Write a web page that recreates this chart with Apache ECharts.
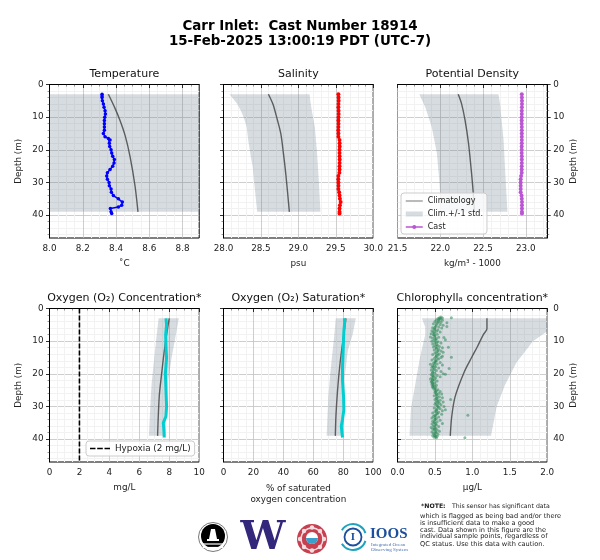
<!DOCTYPE html>
<html><head><meta charset="utf-8">
<style>html,body{margin:0;padding:0;background:#fff}#c{width:600px;height:560px}</style>
<script src="https://cdn.jsdelivr.net/npm/echarts@6/dist/echarts.min.js"></script>
</head><body><div id="c"></div>
<script>
// ---------- data: [value, depth] ----------
const depthTicks=[0,10,20,30,40];
const tempTicks=[8,8.2,8.4,8.6,8.8];
const salTicks=[28,28.5,29,29.5,30];
const densTicks=[21.5,22,22.5,23];
const oxyTicks=[0,2,4,6,8,10];
const satTicks=[0,20,40,60,80,100];
const chlTicks=[0,0.5,1,1.5,2];

const tempClim=[[8.354,3],[8.394,7.3],[8.424,11],[8.454,15.5],[8.484,22],[8.514,31],[8.532,39]];
const tempLo=[[7.7,3],[7.7,39]];
const tempHi=[[9.2,3],[9.2,39]];
const tempCast=[[8.316,3],[8.316,3.5],[8.316,4],[8.318,5],[8.324,6],[8.328,7],[8.334,8],[8.336,9],[8.332,10],[8.33,11],[8.33,12],[8.33,13],[8.33,14],[8.324,15],[8.334,16],[8.354,16.5],[8.364,17],[8.36,18],[8.362,19],[8.37,20],[8.374,21],[8.38,22],[8.39,23],[8.388,24],[8.38,25],[8.364,26],[8.348,27],[8.344,28],[8.348,29],[8.358,30],[8.36,31],[8.37,32],[8.372,33],[8.384,34],[8.414,35],[8.438,36],[8.434,37],[8.414,37.5],[8.366,38],[8.37,39],[8.374,39.5]];

const salClim=[[28.6,3],[28.66,6],[28.71,10],[28.765,15],[28.8,21],[28.835,28],[28.88,39]];
const salLo=[[28.08,3],[28.11,3.8],[28.18,5.8],[28.23,7.9],[28.27,10.1],[28.31,13],[28.33,17],[28.365,22.1],[28.39,25.2],[28.42,32.3],[28.45,39]];
const salHi=[[29.15,3],[29.16,5],[29.18,8],[29.22,13],[29.25,21],[29.275,30],[29.295,39]];
const salCast=[[29.535,3],[29.537,4],[29.538,5],[29.536,6],[29.535,7],[29.537,8],[29.538,9],[29.536,10],[29.535,11],[29.536,12],[29.535,13],[29.534,14],[29.535,15],[29.535,16],[29.55,17],[29.551,18],[29.552,19],[29.55,20],[29.55,21],[29.551,22],[29.552,23],[29.551,24],[29.55,25],[29.55,26],[29.548,27],[29.535,28],[29.534,29],[29.535,30],[29.536,31],[29.535,32],[29.545,33],[29.55,34],[29.555,35],[29.565,36],[29.555,37],[29.55,38],[29.55,39],[29.55,39.5]];

const densClim=[[22.21,3],[22.25,6],[22.29,11],[22.33,18],[22.365,27],[22.385,33],[22.4,39]];
const densLo=[[21.755,3],[21.79,5],[21.825,7],[21.9,13],[21.96,21],[21.99,30],[22.01,39]];
const densHi=[[22.68,3],[22.7,6],[22.71,9],[22.74,17],[22.76,27],[22.785,39]];
const densCast=[[22.953,3],[22.954,4],[22.955,5],[22.955,6],[22.954,7],[22.953,8],[22.953,9],[22.952,10],[22.952,11],[22.952,12],[22.953,13],[22.953,14],[22.953,15],[22.953,16],[22.953,17],[22.953,18],[22.952,19],[22.952,20],[22.952,21],[22.953,22],[22.953,23],[22.953,24],[22.952,25],[22.952,26],[22.952,27],[22.945,28],[22.94,29],[22.94,30],[22.94,31],[22.94,32],[22.94,33],[22.95,34],[22.953,35],[22.955,36],[22.955,37],[22.955,38],[22.955,39],[22.955,39.5]];

const oxyClim=[[8,3],[7.82,8],[7.64,14],[7.49,20],[7.33,27],[7.22,39]];
const oxyLo=[[7.29,3],[7.16,8],[7,15],[6.82,23],[6.71,32],[6.64,39]];
const oxyHi=[[8.64,3],[8.44,8],[8.16,15],[7.93,22],[7.82,30],[7.76,39]];
const oxyCast=[[7.78,3],[7.82,5],[7.76,8],[7.78,12],[7.82,15],[7.74,20],[7.78,25],[7.82,30],[7.78,33],[7.6,35],[7.64,37],[7.67,39.5]];
const hypoxia=[[2,0],[2,47]];

const satClim=[[81.8,3],[80,9],[77.8,17],[76.2,25],[75.1,33],[74.7,39]];
const satLo=[[75,3],[73.8,9],[71.5,19],[70,27],[68.9,39]];
const satHi=[[88.4,3],[86.2,8],[83,13],[81,21],[80.4,30],[80,39]];
const satCast=[[80.7,3],[81,4],[80.4,7],[80,12],[79.5,18],[79.5,22],[80.2,27],[80.4,31],[79.5,34],[78.7,36],[79.1,38],[79.5,39.5]];

const chlClim=[[1.195,3],[1.195,6.2],[1.147,8],[1.067,11.7],[0.99,15],[0.89,19.5],[0.77,27],[0.725,33],[0.705,39]];
const chlLo=[[0.325,3],[0.37,5.7],[0.37,8],[0.3,15],[0.235,23.5],[0.18,30.6],[0.16,39]];
const chlHi=[[2.4,3],[2.15,5],[2,7],[1.81,10],[1.59,16.5],[1.435,23.5],[1.325,30],[1.25,39]];
const chlCast=[
[.58,2.6],[.56,2.8],[.6,2.9],[.54,3.1],[.72,2.8],[.57,3.3],[.52,3.5],[.6,3.6],[.55,3.9],[.5,4],[.58,4.2],[.66,4.4],[.53,4.5],[.48,4.7],[.57,4.9],[.61,5.1],[.66,5.5],[.51,5.4],[.55,5.7],[.47,5.9],[.59,6],
[.5,6.3],[.54,6.6],[.46,6.8],[.52,7],[.57,7.2],[.49,7.4],[.45,7.7],[.53,7.9],[.48,8.1],[.62,8.9],[.5,8.4],[.44,8.7],[.55,8.8],[.47,9.1],[.52,9.3],[.64,9.6],[.49,9.7],[.46,10],[.54,10.2],[.5,10.5],[.58,10.6],[.47,10.9],[.53,11.1],[.68,11.9],[.5,11.3],[.56,11.6],[.48,11.8],[.6,12],[.52,12.2],[.55,12.5],[.49,12.7],[.58,13],[.53,13.2],[.61,13.4],[.5,13.6],[.56,13.9],[.47,14.1],[.72,14.9],[.54,14.3],[.6,14.6],[.51,14.8],[.58,15],
[.49,15.3],[.55,15.5],[.46,15.8],[.52,16],[.5,16.3],[.57,16.5],[.44,17.1],[.48,16.8],[.53,17],[.6,17.3],[.47,17.5],[.51,17.8],[.69,18.4],[.46,18],[.55,18.2],[.49,18.5],[.45,18.8],[.52,19],[.58,19.3],[.47,19.5],[.61,20],[.64,20.1],[.5,19.8],[.45,20.2],[.53,20.5],[.48,20.7],[.57,20.9],[.46,21.1],[.51,21.3],[.44,21.6],[.49,21.8],[.47,22],[.53,22.2],[.45,22.5],[.5,22.7],[.47,23],[.46,23.3],[.52,23.5],[.49,23.7],[.47,24],[.51,24.2],
[.5,24.6],[.54,24.9],[.52,25.2],[.57,25.4],[.5,25.7],[.55,26],[.59,26.2],[.52,26.4],[.49,26.7],[.56,27],[.6,27.3],[.53,27.5],[.71,27.9],[.5,27.9],[.57,28.1],[.54,28.4],[.61,28.6],[.51,28.8],[.56,29],[.5,29.3],[.58,29.5],[.53,29.8],[.62,30],[.55,30.2],[.49,30.5],[.57,30.7],[.64,31],[.52,31.1],[.6,31.3],[.5,31.5],[.55,31.8],[.47,32],[.53,32.2],[.94,32.7],[.59,32.4],[.5,32.7],[.48,33],[.55,33.2],[.46,33.5],[.52,33.7],[.5,34],[.57,34.2],[.47,34.5],[.53,34.7],[.6,35.2],[.49,35],[.46,35.4],[.52,35.6],[.48,35.9],[.55,36.1],[.45,36.4],[.51,36.6],[.47,36.9],[.53,37.1],[.49,37.3],[.56,37.6],[.46,37.8],[.52,38],[.48,38.3],[.54,38.5],[.5,38.8],[.47,39],[.53,39.1],[.49,39.4],[.52,39.6],[.9,39.6],
[.57,3],[.55,3.4],[.54,4.1],[.52,5],[.5,5.8],[.49,6.5],[.48,7.3],[.49,8],[.5,8.9],[.51,9.6],[.52,10.4],[.53,11.4],[.52,12.1],[.54,12.9],[.53,13.8],[.52,14.5],[.53,15.2],[.51,16],[.5,16.7],[.49,17.4],[.48,18.1],[.48,18.9],[.47,19.7],[.47,20.4],[.48,21],[.47,21.7],[.46,22.3],[.47,22.8],[.48,23.4],[.47,23.9],[.48,24.4],[.5,25],[.51,25.6],[.52,26.1],[.53,26.8],[.52,27.4],[.53,28],[.54,28.7],[.53,29.4],[.54,30.1],[.53,30.8],[.52,31.4],[.53,32.1],[.51,32.8],[.5,33.4],[.5,34.1],[.49,34.8],[.51,35.3],[.5,35.9],[.49,36.5],[.5,37],[.51,37.7],[.5,38.2],[.5,38.9],[.51,39.3]];

const panelTitles=['Temperature','Salinity','Potential Density','Oxygen (O₂) Concentration*','Oxygen (O₂) Saturation*','Chlorophyllₐ concentration*'];
const xNames=['˚C','psu','kg/m³ - 1000','mg/L','% of saturated\noxygen concentration','μg/L'];
const noteLines=['This sensor has significant data','which is flagged as being bad and/or there','is insufficient data to make a good','cast. Data shown in this figure are the','individual sample points, regardless of','QC status. Use this data with caution.'];

// ---------- build ----------
const FONT='DejaVu Sans', FILL='rgba(112,128,144,0.28)', CLIM='rgba(70,70,70,0.85)';
const lefts=[49.5,223.5,397.5], tops=[84.5,308.5], W=149.7, H=153.5;
const panels=[
 {r:0,c:0,min:8,max:8.9,iv:.2,sp:4,ticks:tempTicks,dec:1,clim:tempClim,lo:tempLo,hi:tempHi,cast:tempCast,col:'#0000ff',lw:1.5,ss:3.5},
 {r:0,c:1,min:28,max:30,iv:.5,sp:5,ticks:salTicks,dec:1,clim:salClim,lo:salLo,hi:salHi,cast:salCast,col:'#ff0000',lw:1.5,ss:4},
 {r:0,c:2,min:21.5,max:23.25,iv:.5,sp:5,ticks:densTicks,dec:1,clim:densClim,lo:densLo,hi:densHi,cast:densCast,col:'#ba55d3',lw:1.5,ss:4},
 {r:1,c:0,min:0,max:10,iv:2,sp:4,ticks:oxyTicks,dec:0,clim:oxyClim,lo:oxyLo,hi:oxyHi,cast:oxyCast,col:'#00ced1',lw:3,ss:0},
 {r:1,c:1,min:0,max:100,iv:20,sp:4,ticks:satTicks,dec:0,clim:satClim,lo:satLo,hi:satHi,cast:satCast,col:'#00ced1',lw:3,ss:0},
 {r:1,c:2,min:0,max:2,iv:.5,sp:5,ticks:chlTicks,dec:1,clim:chlClim,lo:chlLo,hi:chlHi,cast:chlCast,col:'#2e8b57',scatter:true}
];
const grid=[],xAxis=[],yAxis=[],series=[],title=[];
const major={show:true,lineStyle:{color:'#c2c2c2',width:.8}};
const minor={show:true,lineStyle:{color:'#f2f2f2',width:1}};
panels.forEach((p,i)=>{
 const L=lefts[p.c],T=tops[p.r];
 grid.push({left:L,top:T,width:W,height:H,show:true,borderColor:'#000',borderWidth:1,backgroundColor:'transparent',containLabel:false});
 xAxis.push({type:'value',gridIndex:i,min:p.min,max:p.max,interval:p.iv,
  name:xNames[i],nameLocation:'middle',nameGap:i===4?21:20,nameTextStyle:{fontFamily:FONT,fontSize:8.8,color:'#222',lineHeight:11},
  axisLine:{show:true,lineStyle:{color:'#000',width:1}},
  axisTick:{show:true,length:3.5,customValues:p.ticks,lineStyle:{color:'#000',width:.8}},
  minorTick:{show:true,splitNumber:p.sp,length:2,lineStyle:{color:'#333',width:.5}},
  axisLabel:{show:true,customValues:p.ticks,fontFamily:FONT,fontSize:8.8,color:'#222',margin:6.5,formatter:v=>v.toFixed(p.dec),hideOverlap:false,showMinLabel:true,showMaxLabel:true},
  splitLine:major,minorSplitLine:minor});
 const right=p.c===2, lab=p.c!==1;
 yAxis.push({type:'value',gridIndex:i,inverse:true,min:0,max:47,interval:10,position:right?'right':'left',
  name:lab?'Depth (m)':'',nameLocation:'middle',nameGap:right?22:26,nameRotate:90,nameTextStyle:{fontFamily:FONT,fontSize:8.8,color:'#222'},
  axisLine:{show:true,lineStyle:{color:'#000',width:1}},
  axisTick:{show:true,length:3.5,customValues:depthTicks,lineStyle:{color:'#000',width:.8}},
  minorTick:{show:true,splitNumber:5,length:2,lineStyle:{color:'#333',width:.5}},
  axisLabel:{show:lab,customValues:depthTicks,fontFamily:FONT,fontSize:8.8,color:'#222',margin:6},
  splitLine:major,minorSplitLine:minor});
 title.push({text:panelTitles[i],left:L+W/2,top:T-16,padding:0,textAlign:'center',textStyle:{fontFamily:FONT,fontSize:11,fontWeight:'normal',color:'#111'}});
 series.push({type:'custom',name:'Clim.+/-1 std.',xAxisIndex:i,yAxisIndex:i,clip:true,silent:true,z:3,
  coordinateSystem:'cartesian2d',color:FILL,itemStyle:{color:FILL},
  data:p.lo.concat(p.hi.slice().reverse()),encode:{x:0,y:1},
  renderItem:(params,api)=>{
   if(params.dataIndex!==0) return {type:'group',children:[]};
   const pts=p.lo.concat(p.hi.slice().reverse()).map(d=>api.coord(d));
   return {type:'polygon',shape:{points:pts},style:{fill:FILL},
     clipPath:{type:'rect',shape:{x:params.coordSys.x,y:params.coordSys.y,width:params.coordSys.width,height:params.coordSys.height}}};
  }});
 series.push({type:'line',name:'Climatology',xAxisIndex:i,yAxisIndex:i,data:p.clim,smooth:.3,symbol:'none',showSymbol:false,z:4,silent:true,
  lineStyle:{color:CLIM,width:1.4},itemStyle:{color:'#777'}});
 if(p.scatter){
  series.push({type:'scatter',name:'Cast',xAxisIndex:i,yAxisIndex:i,data:p.cast,symbolSize:3,z:5,silent:true,itemStyle:{color:p.col,opacity:.55}});
 }else{
  series.push({type:'line',name:'Cast',xAxisIndex:i,yAxisIndex:i,data:p.cast,z:5,silent:true,showSymbol:p.ss>0,symbol:p.ss>0?'circle':'none',symbolSize:p.ss,
   lineStyle:{color:p.col,width:p.lw},itemStyle:{color:p.col}});
 }
 if(i===3){
  series.push({type:'line',name:'Hypoxia (2 mg/L)',xAxisIndex:i,yAxisIndex:i,data:hypoxia,symbol:'none',showSymbol:false,z:6,silent:true,
   lineStyle:{color:'#000',width:1.6,type:[5,2]},itemStyle:{color:'#000'}});
 }
});

// legends
const legBase={backgroundColor:'rgba(255,255,255,.8)',borderColor:'#ccc',borderWidth:1,borderRadius:3,orient:'vertical',selectedMode:false,
  textStyle:{fontFamily:FONT,fontSize:8,color:'#222'},itemWidth:17,itemHeight:5,itemGap:5,padding:[4,4,3,4],z:20};
const legend=[
 Object.assign({},legBase,{left:401,top:193,width:70,data:[
   {name:'Climatology',icon:'path://M0 1.8H20V3.2H0ZM0 0H0.01V5H0Z',itemStyle:{color:'#777',borderWidth:0}},
   {name:'Clim.+/-1 std.',icon:'rect',itemStyle:{color:FILL}},
   {name:'Cast',itemStyle:{color:'#ba55d3'},lineStyle:{color:'#ba55d3',width:1.5}}]}),
 Object.assign({},legBase,{left:86,top:441,itemWidth:20,textStyle:{fontFamily:FONT,fontSize:8.8,color:'#222'},
   data:[{name:'Hypoxia (2 mg/L)',icon:'path://M0 1.8H5.5V3.2H0ZM7.2 1.8H12.8V3.2H7.2ZM14.5 1.8H20V3.2H14.5ZM0 0H0.01V5H0Z',itemStyle:{color:'#000',borderWidth:0}}],padding:[3,4,3,4]})
];

// header, note, logos
const gfx=[];
const txt=(x,y,s,o)=>gfx.push({type:'text',x,y,silent:true,style:Object.assign({text:s,font:'6.6px "DejaVu Sans"',fill:'#222',textAlign:'left',textVerticalAlign:'middle'},o||{})});
txt(300,27,'Carr Inlet:  Cast Number 18914',{font:'bold 13.4px "DejaVu Sans"',fill:'#000',textAlign:'center'});
txt(300,42,'15-Feb-2025 13:00:19 PDT (UTC-7)',{font:'bold 13.4px "DejaVu Sans"',fill:'#000',textAlign:'center'});
txt(421,506.7,'*NOTE:',{font:'bold 6.2px "DejaVu Sans"'});
txt(452,506.7,noteLines[0],{font:'6.2px "DejaVu Sans"'});
[516.7,523,530.3,536.7,544.3].forEach((y,k)=>txt(420,y,noteLines[k+1]));
const circ=(cx,cy,r,o)=>gfx.push({type:'circle',silent:true,shape:{cx,cy,r},style:o});
// buoy logo
circ(213,537,14.5,{fill:'#fff',stroke:'#555',lineWidth:.8});
circ(213,536,12,{fill:'#000'});
gfx.push({type:'polygon',silent:true,shape:{points:[[211,529],[215,529],[217,539],[209,539]]},style:{fill:'#fff'}});
gfx.push({type:'rect',silent:true,shape:{x:207,y:539,width:12,height:2},style:{fill:'#fff'}});
[544,547.5].forEach(y=>gfx.push({type:'line',silent:true,shape:{x1:203,y1:y,x2:223,y2:y},style:{stroke:'#fff',lineWidth:1.2}}));
// W logo
txt(263,539,'W',{font:'bold 40px "DejaVu Serif"',fill:'#33277c',textAlign:'center'});
// red logo
circ(312,539,15,{fill:'#c6404f'});
circ(312,539,11,{fill:'none',stroke:'#f3dde0',lineWidth:1.4});
[[304,531],[320,531],[304,547],[320,547],[312,527.5],[312,550.5],[300,539],[324,539]].forEach(([a,b])=>circ(a,b,2.2,{fill:'#f3dde0'}));
circ(312,538,6,{fill:'#fff'});
gfx.push({type:'sector',silent:true,shape:{cx:312,cy:538,r:6,startAngle:0,endAngle:Math.PI},style:{fill:'#3a9fc9'}});
// IOOS logo
gfx.push({type:'arc',silent:true,shape:{cx:353,cy:537,r:13,startAngle:-2.6,endAngle:-0.3},style:{stroke:'#1fa3bd',fill:'none',lineWidth:2}});
gfx.push({type:'arc',silent:true,shape:{cx:353,cy:537,r:13,startAngle:0.3,endAngle:2.6},style:{stroke:'#1fa3bd',fill:'none',lineWidth:2}});
circ(353,537,8.5,{fill:'none',stroke:'#1c4f9c',lineWidth:1.8});
txt(353,537,'I',{font:'bold 11px "Liberation Serif"',fill:'#1c4f9c',textAlign:'center'});
txt(370,534,'IOOS',{font:'bold 15px "Liberation Serif"',fill:'#1c4f9c'});
txt(371,544.5,'Integrated Ocean',{font:'5px "Liberation Serif"',fill:'#4a6fb0'});
txt(371,549.5,'Observing System',{font:'5px "Liberation Serif"',fill:'#4a6fb0'});

const chart=echarts.init(document.getElementById('c'),null,{renderer:'canvas'});
chart.setOption({animation:false,backgroundColor:'#fff',textStyle:{fontFamily:FONT},tooltip:{show:false},title,grid,xAxis,yAxis,series,legend,graphic:{elements:gfx}});
</script></body></html>
